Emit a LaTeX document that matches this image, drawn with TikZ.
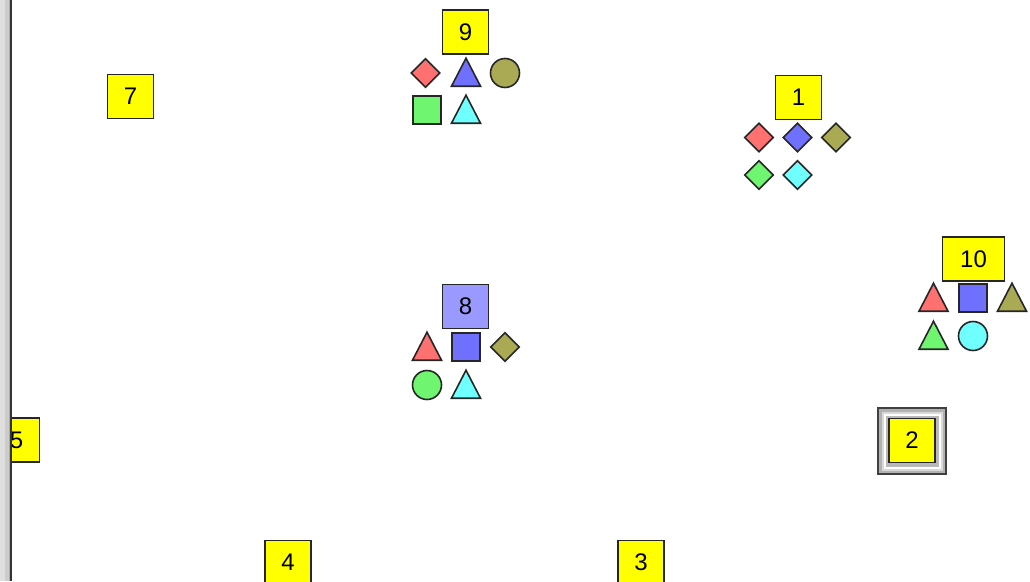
\documentclass[tikz,border=0pt]{standalone}
\usepackage{fontspec}
\setmainfont{Liberation Sans}
\usetikzlibrary{shapes.geometric}
\definecolor{yel}{RGB}{255,255,0}
\definecolor{lav}{RGB}{153,153,255}
\definecolor{cred}{RGB}{255,112,112}
\definecolor{cblue}{RGB}{112,112,255}
\definecolor{colive}{RGB}{170,170,85}
\definecolor{cgreen}{RGB}{112,245,112}
\definecolor{ccyan}{RGB}{112,255,255}
\tikzset{
  lbox/.style={draw=black!85, line width=1.9pt, fill=yel, minimum width=46pt, minimum height=44pt, inner sep=0pt, font=\fontsize{24}{26}\selectfont},
  shp/.style={draw=black!85, line width=1.6pt, inner sep=0pt},
  dia/.style={shp, diamond, minimum width=29pt, minimum height=29pt},
  tri/.style={shp, isosceles triangle, isosceles triangle apex angle=56, shape border rotate=90, isosceles triangle stretches, minimum width=29pt, minimum height=28pt, anchor=lower side},
  sqr/.style={shp, rectangle, minimum size=28pt},
  cir/.style={shp, circle, minimum size=29pt},
}
\begin{document}
\begin{tikzpicture}[x=1pt,y=-1pt]
\useasboundingbox (0,0) rectangle (1030,581);
\fill[white] (0,0) rectangle (1030,581);
% group 9
\node[lbox] (b9) at (465.5,32) {9};
\node[dia, fill=cred] (s9a) at (425.5,73) {};
\node[tri, fill=cblue] (s9b) at (466,87) {};
\node[cir, fill=colive] (s9c) at (505,73) {};
\node[sqr, fill=cgreen] (s9d) at (427,110) {};
\node[tri, fill=ccyan] (s9e) at (466,124) {};
% box 7
\node[lbox] (b7) at (130.5,96.5) {7};
% group 1
\node[lbox] (b1) at (798.5,97.5) {1};
\node[dia, fill=cred] (s1a) at (759,137.5) {};
\node[dia, fill=cblue] (s1b) at (797.5,137.5) {};
\node[dia, fill=colive] (s1c) at (836,137.5) {};
\node[dia, fill=cgreen] (s1d) at (759,175) {};
\node[dia, fill=ccyan] (s1e) at (797.5,175) {};
% group 10
\node[lbox, minimum width=62pt] (b10) at (973.5,259) {10};
\node[tri, fill=cred] (s10a) at (933.5,312) {};
\node[sqr, fill=cblue] (s10b) at (973,298) {};
\node[tri, fill=colive] (s10c) at (1012,312) {};
\node[tri, fill=cgreen] (s10d) at (933.5,350) {};
\node[cir, fill=ccyan] (s10e) at (973,336) {};
% group 8
\node[lbox, fill=lav] (b8) at (465.5,306.5) {8};
\node[tri, fill=cred] (s8a) at (427,361) {};
\node[sqr, fill=cblue] (s8b) at (466,347) {};
\node[dia, fill=colive] (s8c) at (505,347) {};
\node[cir, fill=cgreen] (s8d) at (427,385) {};
\node[tri, fill=ccyan] (s8e) at (466,399) {};
% box 5 (partly hidden by the frame)
\node[lbox] (b5) at (16.5,440) {5};
% box 2 with selection frame
\fill[black!75] (877,407) rectangle (947,475);
\fill[gray!60] (879,409) rectangle (945,473);
\fill[gray!30] (881.5,411.5) rectangle (942.5,470.5);
\fill[white] (883.5,413.5) rectangle (940.5,468.5);
\fill[gray!55] (885.5,415.5) rectangle (938.5,466.5);
\node[lbox] (b2) at (912,440.5) {2};
% boxes 4 and 3
\node[lbox] (b4) at (288,562.5) {4};
\node[lbox] (b3) at (641,562.5) {3};
% left frame
\fill[gray!25] (0,0) rectangle (5,581);
\fill[gray!40] (5,0) rectangle (8.5,581);
\fill[gray!65] (8.5,0) rectangle (9.5,581);
\fill[black!80] (9.5,0) rectangle (12,581);
\end{tikzpicture}
\end{document}
